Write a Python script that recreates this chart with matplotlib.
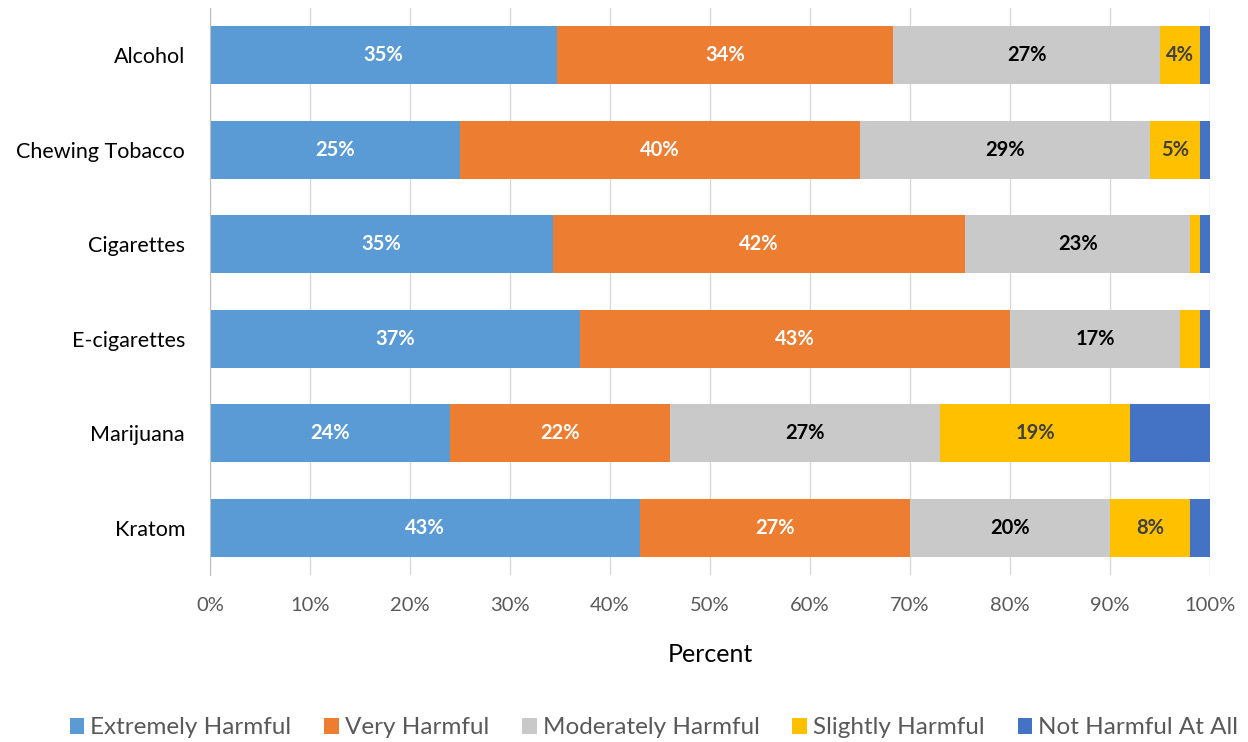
import matplotlib
matplotlib.use("Agg")
import matplotlib.pyplot as plt
import numpy as np

# Perceived harm of substances (percent of respondents)
substances = ["Alcohol", "Chewing Tobacco", "Cigarettes", "E-cigarettes", "Marijuana", "Kratom"]
series_names = ["Extremely Harmful", "Very Harmful", "Moderately Harmful",
                "Slightly Harmful", "Not Harmful At All"]
extremely = [35, 25, 35, 37, 24, 43]
very = [34, 40, 42, 43, 22, 27]
moderately = [27, 29, 23, 17, 27, 20]
slightly = [4, 5, 1, 2, 19, 8]
not_at_all = [1, 1, 1, 1, 8, 2]

colors = ["#5B9BD5", "#ED7D31", "#C9C9C9", "#FFC000", "#4472C4"]
label_colors = ["white", "white", "black", "#404040", None]
min_label = 3  # segments smaller than this are left unlabeled

plt.rcParams["font.family"] = ["Lato", "DejaVu Sans"]

raw = np.array([extremely, very, moderately, slightly, not_at_all], dtype=float)
shares = raw / raw.sum(axis=0) * 100  # 100% stacked

fig = plt.figure(figsize=(12.48, 7.42), dpi=100)
ax = fig.add_axes([210 / 1248, 1 - 575 / 742, 1000 / 1248, 567 / 742])

y = np.arange(len(substances))
left = np.zeros(len(substances))
for i, name in enumerate(series_names):
    bars = ax.barh(y, shares[i], left=left, height=0.61, color=colors[i],
                   label=name, zorder=3)
    if label_colors[i] is not None:
        for j, b in enumerate(bars):
            if raw[i, j] >= min_label:
                ax.text(left[j] + shares[i, j] / 2, y[j], f"{raw[i, j]:.0f}%",
                        ha="center", va="center", fontsize=14.5,
                        fontweight="bold", color=label_colors[i], zorder=4)
    left += shares[i]

ax.set_xlim(0, 100)
ax.set_ylim(len(substances) - 0.5, -0.5)
ax.set_xticks(np.arange(0, 101, 10))
ax.set_xticklabels([f"{v}%" for v in range(0, 101, 10)])
ax.set_yticks(y)
ax.set_yticklabels(substances)

ax.grid(axis="x", color="#D9D9D9", linewidth=1, zorder=0)
for s in ["top", "right", "bottom"]:
    ax.spines[s].set_visible(False)
ax.spines["left"].set_color("#BFBFBF")
ax.spines["left"].set_zorder(5)
ax.tick_params(axis="x", length=0, labelsize=14.5, labelcolor="#595959", pad=16)
ax.tick_params(axis="y", length=0, labelsize=15.5, labelcolor="black", pad=18)

ax.set_xlabel("Percent", fontsize=18, color="black")
ax.xaxis.set_label_coords(0.5, -(655 - 575) / 567)
ax.xaxis.label.set_va("center")

fig.legend(loc="center", bbox_to_anchor=(0.524, 1 - 728 / 742), ncol=5,
           frameon=False, fontsize=17.5, handlelength=0.6, handleheight=0.6,
           handletextpad=0.25, columnspacing=1.35, labelcolor="#595959")

fig.savefig("out.png", dpi=100, facecolor="white")
